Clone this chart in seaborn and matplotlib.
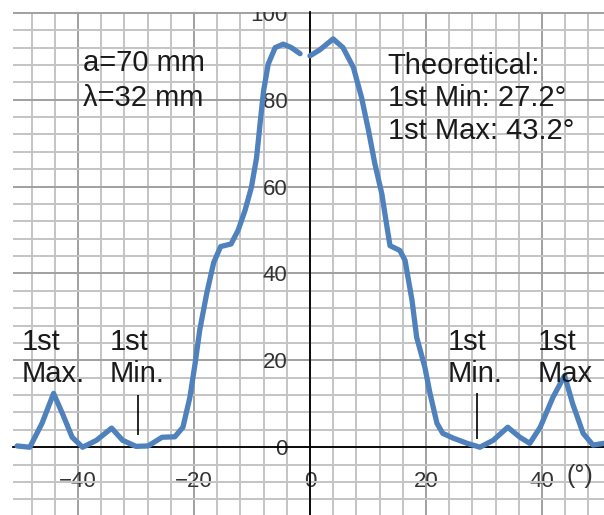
import matplotlib
matplotlib.use("Agg")
import matplotlib.pyplot as plt
from matplotlib.ticker import MultipleLocator
import pandas as pd
import seaborn as sns

# measured intensity, left of the centre (curve has a gap just before 0)
angle_left = [-50.5, -48.3, -46.2, -44.2, -42.6, -41.0, -39.2, -36.8, -34.2, -32.3,
              -30.0, -27.9, -25.5, -23.3, -21.9, -20.7, -19.8, -19.0, -17.8, -16.6,
              -15.4, -13.6, -12.4, -11.2, -10.1, -9.2, -8.6, -8.0, -7.2, -6.0,
              -4.6, -3.2, -1.7]
intensity_left = [0.3, 0.0, 5.5, 12.4, 7.5, 2.3, 0.0, 1.6, 4.4, 1.6,
                  0.2, 0.3, 2.3, 2.4, 4.6, 11.5, 19.3, 27.0, 35.4, 42.5,
                  46.2, 46.8, 49.9, 54.5, 59.8, 66.7, 74.5, 82.0, 88.2, 92.0,
                  92.8, 92.0, 90.6]

# measured intensity, right of the centre
angle_right = [0.0, 1.7, 4.0, 5.7, 7.5, 8.9, 10.1, 11.2, 12.4, 13.2,
               13.8, 15.5, 16.4, 17.6, 18.4, 19.8, 20.7, 21.9, 22.9, 24.7,
               27.1, 29.3, 31.6, 34.1, 36.2, 37.9, 39.7, 41.9, 43.9, 45.3,
               47.1, 48.8, 50.7]
intensity_right = [90.1, 91.5, 94.0, 92.0, 87.4, 80.5, 72.9, 65.2, 58.3, 51.4,
                   46.4, 45.3, 43.0, 33.8, 25.3, 18.5, 12.4, 5.5, 3.2, 2.1,
                   0.9, 0.0, 1.6, 4.6, 2.3, 0.9, 4.6, 11.5, 16.5, 10.0,
                   3.2, 0.5, 0.9]

x_ticks = [-40, -20, 0, 20, 40]
y_ticks = [0, 20, 40, 60, 80, 100]

# short marks showing where the 1st minimum sits
min_mark_x = [-29.7, 28.8]
min_mark_bottom = [2.8, 2.0]
min_mark_top = [12.0, 12.4]

sns.set_theme(style="white")
plt.rcParams['font.family'] = ['Liberation Sans', 'DejaVu Sans']

left = pd.DataFrame({'angle': angle_left, 'intensity': intensity_left})
right = pd.DataFrame({'angle': angle_right, 'intensity': intensity_right})

fig = plt.figure(figsize=(6.04, 5.15), dpi=100)
ax = fig.add_axes([13 / 604, 0, 591 / 604, 503 / 515])

line_kw = dict(color='#4f81bd', linewidth=3.8, solid_capstyle='round',
               solid_joinstyle='round', zorder=3)
sns.lineplot(data=left, x='angle', y='intensity', ax=ax, **line_kw)
sns.lineplot(data=right, x='angle', y='intensity', ax=ax, **line_kw)

ax.set_xlim(-51.2, 50.7)
ax.set_ylim(-15.6, 100.2)

# graph-paper grid
ax.set_xticks(x_ticks)
ax.set_yticks(y_ticks)
ax.xaxis.set_minor_locator(MultipleLocator(4))
ax.yaxis.set_minor_locator(MultipleLocator(4))
ax.set_axisbelow(True)
ax.grid(which='minor', color='#c4c4c4', linewidth=1.4)
ax.grid(which='major', color='#a0a0a0', linewidth=1.4)

# axes crossing at the origin
for side in ['top', 'right']:
    ax.spines[side].set_visible(False)
ax.spines['left'].set_position(('data', 0))
ax.spines['bottom'].set_position(('data', 0))
for side in ['left', 'bottom']:
    ax.spines[side].set_color('black')
    ax.spines[side].set_linewidth(1.3)
    ax.spines[side].set_zorder(2.6)

ax.tick_params(axis='both', which='both', length=0, labelsize=16, labelcolor='#333333')
ax.tick_params(axis='y', pad=16)
ax.tick_params(axis='x', pad=17)
ax.set_xlabel('')
ax.set_ylabel('')

fig.canvas.draw()
for lbl in ax.get_yticklabels():
    lbl.set_clip_on(True)
    lbl.set_clip_box(ax.bbox)

txt = dict(fontsize=21, color='#1a1a1a', zorder=4)
ax.text(-39.1, 84.4, 'a=70 mm\nλ=32 mm', ha='left', va='center', linespacing=1.3, **txt)
ax.text(13.4, 80.3, 'Theoretical:\n1st Min: 27.2°\n1st Max: 43.2°', ha='left',
        va='center', linespacing=1.2, **txt)
ax.text(-49.7, 20.6, '1st\nMax.', ha='left', va='center', linespacing=1.2, **txt)
ax.text(-34.5, 20.6, '1st\nMin.', ha='left', va='center', linespacing=1.2, **txt)
ax.text(23.8, 20.6, '1st\nMin.', ha='left', va='center', linespacing=1.2, **txt)
ax.text(39.3, 20.6, '1st\nMax', ha='left', va='center', linespacing=1.2, **txt)
ax.text(46.6, -6.7, '(°)', ha='center', va='center', fontsize=18, color='#333333')

ax.vlines(min_mark_x, min_mark_bottom, min_mark_top, color='black', linewidth=1.2, zorder=4)

fig.savefig('out.png', dpi=100)
